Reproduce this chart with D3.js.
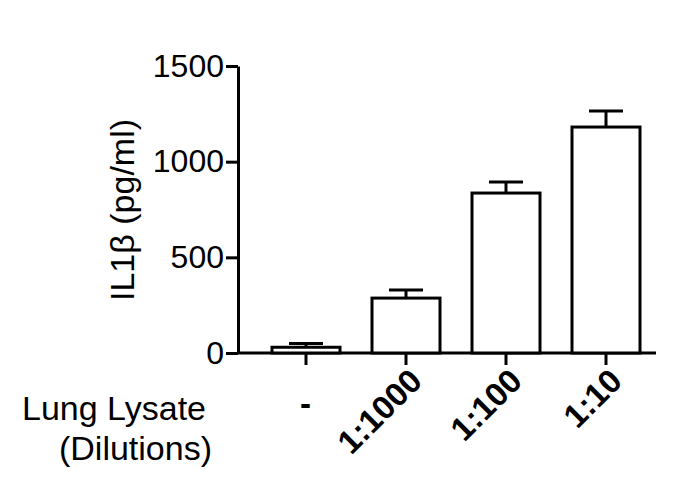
<!DOCTYPE html>
<html><head><meta charset="utf-8">
<script src="https://cdn.jsdelivr.net/npm/d3@7"></script>
<style>body{margin:0;background:#fff}text{font-family:"Liberation Sans",Arial,sans-serif}</style>
</head><body><div id="chart"></div>
<script>
// data
const categories = ['-', '1:1000', '1:100', '1:10'];
const means = [30, 287, 836, 1181];
const errors = [20, 42, 58, 84];
const yTicks = [0, 500, 1000, 1500];

const W = 692, H = 488;
const svg = d3.select('#chart').append('svg').attr('width', W).attr('height', H);

const x = d3.scaleBand().domain(categories).range([256, 656]).paddingInner(0.32).paddingOuter(0.16);
const y = d3.scaleLinear().domain([0, 1500]).range([353, 66]);

// y axis
const yAxis = svg.append('g').attr('transform', 'translate(238,0)')
    .call(d3.axisLeft(y).tickValues(yTicks).tickFormat(d3.format('d')).tickSize(12).tickSizeOuter(0));
yAxis.select('.domain').attr('stroke', '#000').attr('stroke-width', 3);
yAxis.selectAll('.tick line').attr('stroke-width', 3);
yAxis.selectAll('text').attr('font-size', 32).attr('fill', '#000').attr('x', -14);

// x axis
const xAxis = svg.append('g').attr('transform', 'translate(0,353)')
    .call(d3.axisBottom(x).tickSize(12).tickSizeOuter(0));
xAxis.select('.domain').attr('d', 'M238,0H656').attr('stroke', '#000').attr('stroke-width', 3);
xAxis.selectAll('.tick line').attr('stroke-width', 3);
xAxis.selectAll('text')
    .attr('font-size', 33).attr('font-weight', 'bold').attr('fill', '#000')
    .attr('text-anchor', 'end').attr('dy', 0).attr('y', 0)
    .attr('transform', d => d === '-' ? 'translate(5,62)' : 'translate(18,30) rotate(-45)');

// error bars (upper only)
const err = svg.append('g');
categories.forEach((c, i) => {
    const cx = x(c) + x.bandwidth() / 2;
    err.append('line').attr('x1', cx).attr('x2', cx)
        .attr('y1', y(means[i])).attr('y2', y(means[i] + errors[i]))
        .attr('stroke', '#000').attr('stroke-width', 3);
    err.append('line').attr('x1', cx - 17).attr('x2', cx + 17)
        .attr('y1', y(means[i] + errors[i])).attr('y2', y(means[i] + errors[i]))
        .attr('stroke', '#000').attr('stroke-width', 3);
});

// bars
svg.append('g').selectAll('rect').data(categories).join('rect')
    .attr('x', d => x(d)).attr('width', x.bandwidth())
    .attr('y', (d, i) => y(means[i])).attr('height', (d, i) => y(0) - y(means[i]))
    .attr('fill', '#fff').attr('stroke', '#000').attr('stroke-width', 3);

// labels
svg.append('text').attr('transform', 'translate(134,210) rotate(-90)')
    .attr('text-anchor', 'middle').attr('font-size', 34).text('IL1β (pg/ml)');
svg.append('text').attr('x', 22).attr('y', 420).attr('font-size', 34).text('Lung Lysate');
svg.append('text').attr('x', 212).attr('y', 460).attr('text-anchor', 'end').attr('font-size', 34).text('(Dilutions)');
</script></body></html>
